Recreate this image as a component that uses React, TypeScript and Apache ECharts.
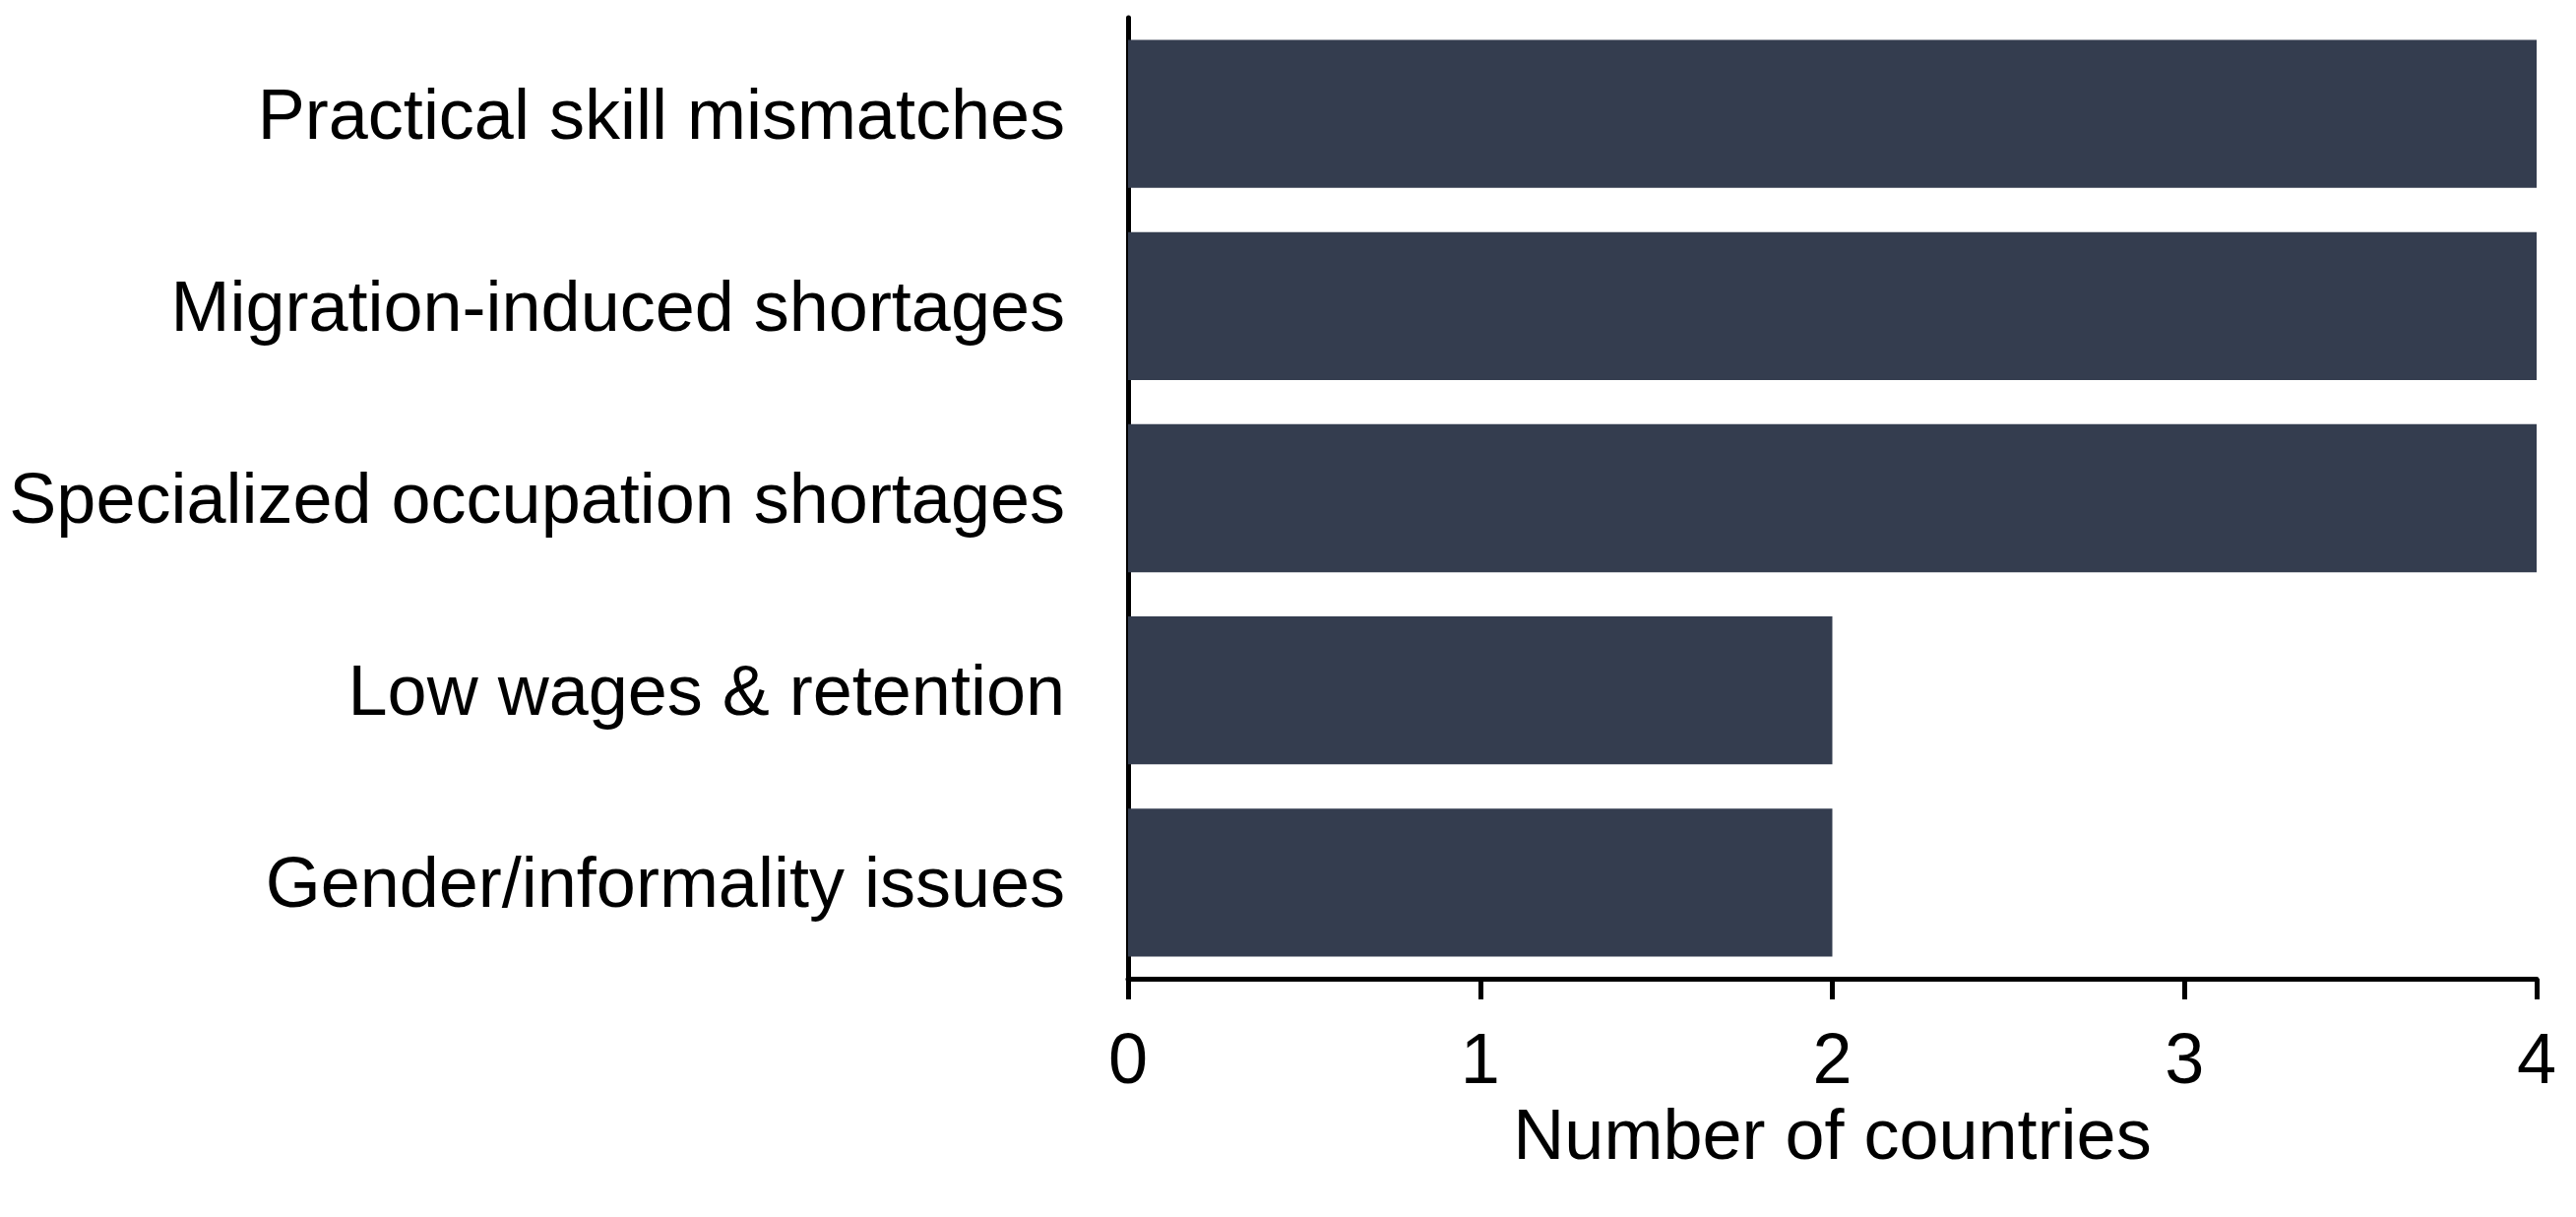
import React, { useEffect, useRef } from "react";
import * as echarts from "echarts";

const categories = [
  "Practical skill mismatches",
  "Migration-induced shortages",
  "Specialized occupation shortages",
  "Low wages & retention",
  "Gender/informality issues",
];
const values = [4, 4, 4, 2, 2];
const xTicks = [0, 1, 2, 3, 4];

export default function App() {
  const ref = useRef<HTMLDivElement>(null);
  useEffect(() => {
    document.body.style.margin = "0";
    const chart = echarts.init(ref.current!, null, { renderer: "svg" });
    chart.setOption({
      animation: false,
      backgroundColor: "#ffffff",
      textStyle: { fontFamily: "Liberation Sans, Arial, sans-serif" },
      grid: { left: 1146, right: 40, top: 18, bottom: 242, containLabel: false },
      xAxis: {
        type: "value",
        min: xTicks[0],
        max: xTicks[xTicks.length - 1],
        interval: 1,
        name: "Number of countries",
        nameLocation: "middle",
        nameGap: 99,
        nameTextStyle: { color: "#000", fontSize: 72, fontFamily: "Liberation Sans, Arial, sans-serif" },
        axisLine: { show: true, lineStyle: { color: "#000", width: 5 } },
        axisTick: { show: true, length: 21, lineStyle: { color: "#000", width: 5 } },
        axisLabel: { color: "#000", fontSize: 72, margin: 45, fontFamily: "Liberation Sans, Arial, sans-serif" },
        splitLine: { show: false },
      },
      yAxis: {
        type: "category",
        inverse: true,
        data: categories,
        axisLine: { show: true, lineStyle: { color: "#000", width: 5 } },
        axisTick: { show: false },
        axisLabel: { color: "#000", fontSize: 72, margin: 64, fontFamily: "Liberation Sans, Arial, sans-serif" },
      },
      series: [
        {
          type: "bar",
          data: values,
          barCategoryGap: "23%",
          itemStyle: { color: "#343d4f" },
        },
      ],
    });
    return () => chart.dispose();
  }, []);
  return <div ref={ref} style={{ position: "fixed", left: 0, top: 0, width: 2617, height: 1236 }} />;
}
